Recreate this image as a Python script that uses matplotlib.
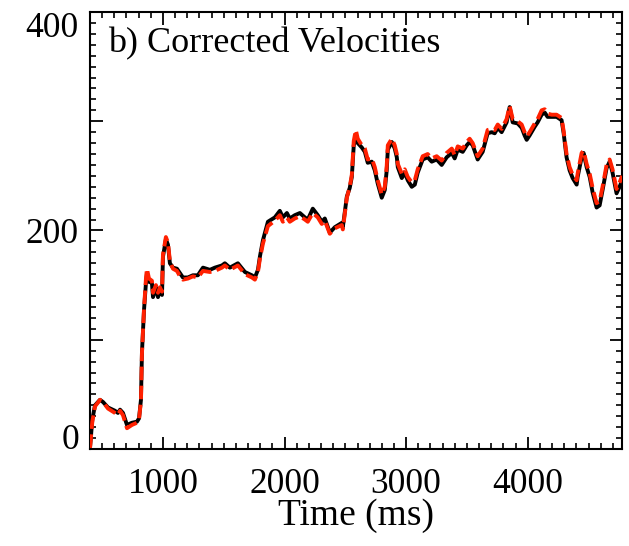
import matplotlib
matplotlib.use('Agg')
import matplotlib.pyplot as plt
from matplotlib.ticker import MultipleLocator, FuncFormatter

# time (ms) and corrected velocity
t = [400, 419, 441, 482, 507, 548, 605, 630, 647, 671, 704, 745, 786, 803, 819, 827,
     844, 860, 868, 885, 909, 918, 942, 959, 975, 992, 1000, 1024, 1041, 1057, 1082,
     1115, 1140, 1164, 1205, 1246, 1287, 1329, 1386, 1427, 1485, 1509, 1550, 1616,
     1674, 1731, 1756, 1781, 1797, 1822, 1863, 1920, 1961, 1986, 2019, 2043, 2084,
     2126, 2167, 2191, 2232, 2273, 2306, 2331, 2372, 2413, 2471, 2479, 2512, 2536,
     2553, 2569, 2586, 2602, 2635, 2660, 2684, 2717, 2742, 2766, 2799, 2824, 2840,
     2849, 2882, 2906, 2923, 2931, 2964, 2988, 3013, 3046, 3071, 3095, 3136, 3177,
     3210, 3251, 3292, 3333, 3375, 3399, 3424, 3465, 3498, 3522, 3547, 3588, 3629,
     3670, 3703, 3728, 3753, 3785, 3826, 3851, 3876, 3917, 3950, 3974, 3991, 4015,
     4057, 4081, 4114, 4139, 4163, 4196, 4237, 4278, 4295, 4319, 4344, 4369, 4402,
     4410, 4443, 4459, 4484, 4509, 4533, 4566, 4591, 4615, 4648, 4673, 4697, 4730,
     4755, 4776]
v_black = [1, 27, 40, 45, 43, 38, 35, 33, 36, 33, 22, 24, 25, 28, 45, 88,
           127, 152, 160, 153, 152, 139, 148, 139, 146, 141, 176, 192, 187, 170, 166,
           165, 161, 157, 157, 159, 159, 166, 164, 166, 168, 170, 166, 170,
           162, 159, 157, 164, 176, 191, 208, 212, 218, 212, 216, 211, 214,
           216, 212, 210, 220, 214, 208, 211, 198, 203, 207, 203, 231, 239,
           249, 278, 285, 280, 276, 272, 262, 263, 255, 243, 230, 237, 255,
           274, 281, 275, 267, 258, 248, 253, 246, 240, 242, 253, 265, 267,
           263, 265, 260, 267, 271, 266, 274, 272, 278, 281, 278, 265, 272,
           289, 290, 289, 294, 290, 299, 313, 299, 298, 294, 287, 283, 287,
           295, 299, 306, 308, 304, 304, 304, 301, 289, 267, 255, 248, 242,
           249, 267, 271, 258, 249, 235, 221, 223, 237, 257, 263, 253, 234,
           240, 246]
v_red = [1, 25, 39, 45, 43, 37, 33, 31, 35, 31, 19, 22, 24, 27, 44, 87,
         128, 156, 165, 156, 154, 143, 150, 143, 148, 144, 178, 194, 189, 172, 165,
         163, 158, 155, 156, 158, 157, 163, 162, 163, 166, 168, 164, 168,
         160, 157, 155, 162, 174, 188, 204, 209, 214, 208, 212, 208, 211,
         213, 210, 208, 216, 212, 206, 209, 197, 202, 205, 201, 230, 240,
         251, 282, 292, 284, 278, 275, 265, 266, 258, 246, 233, 240, 259,
         278, 284, 278, 270, 261, 252, 256, 249, 244, 246, 256, 268, 270,
         266, 268, 264, 271, 275, 269, 277, 275, 281, 284, 280, 268, 275,
         292, 293, 292, 297, 293, 302, 314, 302, 300, 297, 290, 286, 290,
         298, 302, 310, 311, 307, 306, 306, 303, 291, 270, 258, 251, 246,
         252, 271, 273, 261, 252, 239, 225, 227, 240, 260, 265, 256, 238,
         244, 250]

plt.rcParams['font.family'] = ['Liberation Serif', 'DejaVu Serif']

fig = plt.figure(figsize=(6.29, 5.46), dpi=100)
ax = fig.add_axes([0.1431, 0.1777, 0.8458, 0.8003])

ax.plot(t, v_black, color='black', lw=2.8, solid_joinstyle='round', zorder=2)
ax.plot(t, v_red, color='#ff2000', lw=2.8, dashes=(3.5, 1.4), zorder=3)

ax.set_xlim(400, 4775)
ax.set_ylim(0, 400)
ax.xaxis.set_major_locator(MultipleLocator(1000))
ax.xaxis.set_minor_locator(MultipleLocator(100))
ax.yaxis.set_major_locator(MultipleLocator(100))
ax.yaxis.set_minor_locator(MultipleLocator(10))
ax.yaxis.set_major_formatter(FuncFormatter(lambda y, p: '%d' % y if y % 200 == 0 else ''))

ax.tick_params(which='both', direction='in', top=True, right=True, labelsize=25.5)
ax.tick_params(which='major', length=9, width=1.3)
ax.tick_params(which='minor', length=4.5, width=1.2)
ax.tick_params(axis='x', which='major', pad=14)
ax.tick_params(axis='y', which='major', pad=8)
for s in ax.spines.values():
    s.set_linewidth(1.5)

# IDL-style: end labels pulled inside the axis range
fig.canvas.draw()
for lab in ax.get_yticklabels():
    if lab.get_text() == '0':
        lab.set_va('baseline')
    elif lab.get_text() == '400':
        lab.set_va('top')

ax.set_xlabel('Time (ms)', fontsize=27, labelpad=-2)
ax.text(0.034, 0.965, 'b) Corrected Velocities', transform=ax.transAxes,
        fontsize=26, va='top', ha='left')

fig.savefig('out.png', dpi=100)
